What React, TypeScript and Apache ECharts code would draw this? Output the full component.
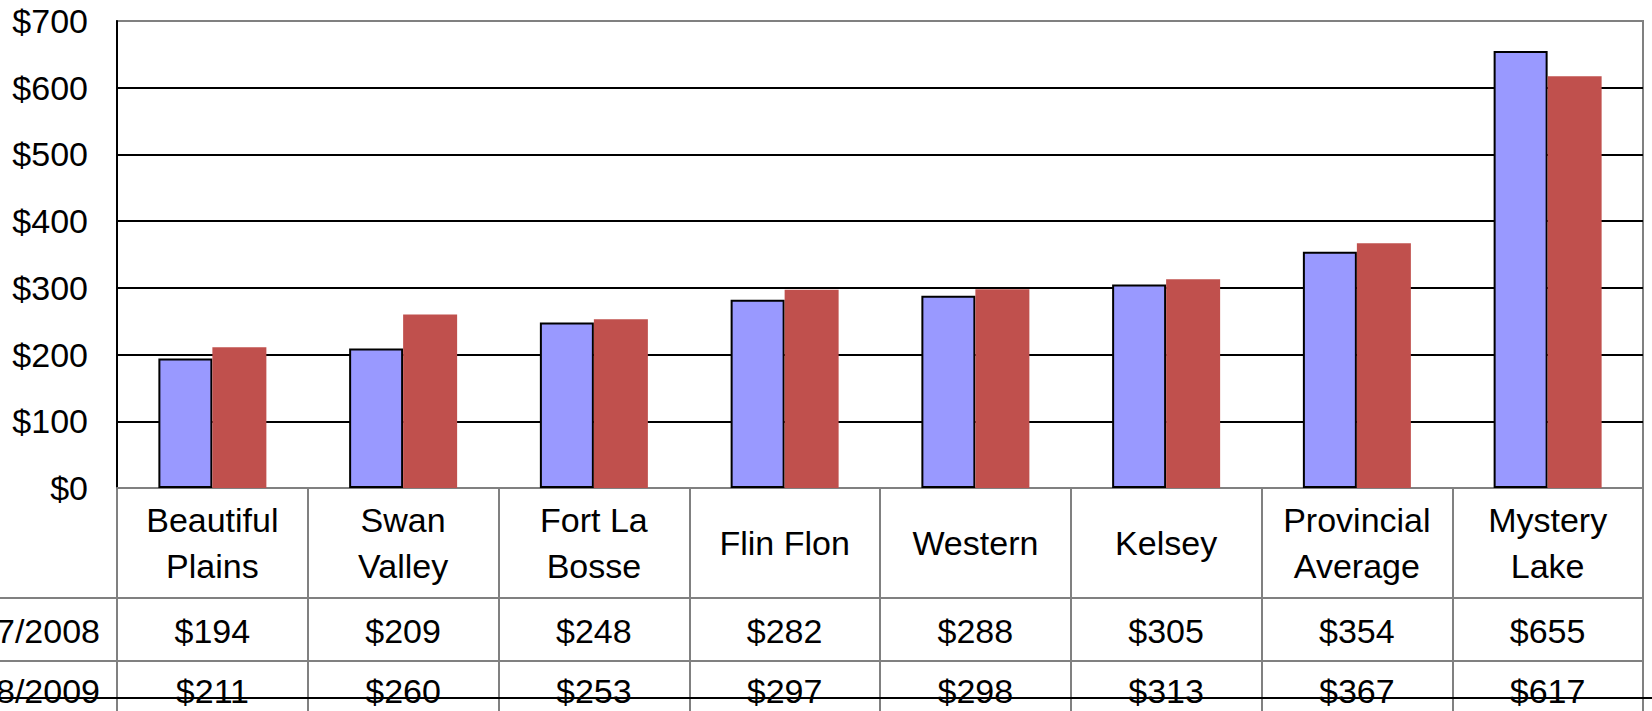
import React, { useEffect, useRef } from "react";
import * as echarts from "echarts";

const categories = [
  "Beautiful\nPlains",
  "Swan\nValley",
  "Fort La\nBosse",
  "Flin Flon",
  "Western",
  "Kelsey",
  "Provincial\nAverage",
  "Mystery\nLake",
];
const seriesNames = ["2007/2008", "2008/2009"];
const values2007 = [194, 209, 248, 282, 288, 305, 354, 655];
const values2008 = [211, 260, 253, 297, 298, 313, 367, 617];
const yMin = 0;
const yMax = 700;
const yStep = 100;

const W = 1652;
const H = 711;
const FONT = "'Liberation Sans', Arial, Helvetica, sans-serif";
const FS = 34;
const GRAY = "#808080";

export default function App() {
  const ref = useRef<HTMLDivElement>(null);
  useEffect(() => {
    const chart = echarts.init(ref.current!, null, { renderer: "svg", width: W, height: H });
    const gridLeft = 117;
    const gridRight = 9;
    const gridTop = 21;
    const gridBottom = 223;
    chart.setOption({
      animation: false,
      backgroundColor: "#fff",
      grid: {
        left: gridLeft,
        right: gridRight,
        top: gridTop,
        bottom: gridBottom,
        show: true,
        borderColor: GRAY,
        borderWidth: 2,
        containLabel: false,
      },
      xAxis: {
        type: "category",
        data: categories,
        axisLine: { show: true, lineStyle: { color: GRAY, width: 2 } },
        axisTick: { show: true, length: 223, lineStyle: { color: GRAY, width: 2 } },
        axisLabel: {
          color: "#000",
          fontFamily: FONT,
          fontSize: FS,
          lineHeight: 46,
          margin: 55,
          verticalAlign: "middle",
          interval: 0,
        },
      },
      yAxis: {
        type: "value",
        min: yMin,
        max: yMax,
        interval: yStep,
        axisLine: { show: true, lineStyle: { color: "#000", width: 2 } },
        axisTick: { show: false },
        splitLine: { show: true, showMaxLine: false, showMinLine: false, lineStyle: { color: "#000", width: 2 } },
        axisLabel: {
          color: "#000",
          fontFamily: FONT,
          fontSize: FS,
          margin: 29,
          formatter: (v: number) => "$" + v,
        },
      },
      series: [
        {
          name: seriesNames[0],
          type: "bar",
          data: values2007,
          barWidth: 54,
          barGap: "0%",
          itemStyle: { color: "#9999FF", borderColor: "#000", borderWidth: 2 },
        },
        {
          name: seriesNames[1],
          type: "bar",
          data: values2008,
          barWidth: 54,
          barGap: "0%",
          itemStyle: { color: "#C0504D", borderWidth: 0 },
        },
      ],
    });

    const plotRight = W - gridRight;
    const elements: any[] = [];
    const hline = (y: number, x1: number, x2: number, color: string, w: number) =>
      elements.push({
        type: "line",
        silent: true,
        z: 100,
        shape: { x1, y1: y, x2, y2: y },
        style: { stroke: color, lineWidth: w },
      });
    hline(598, 0, plotRight, GRAY, 2);
    hline(661, 0, plotRight, GRAY, 2);

    const rowY = [631, 691];
    [values2007, values2008].forEach((vals, r) => {
      elements.push({
        type: "text",
        silent: true,
        z: 101,
        style: {
          text: seriesNames[r],
          x: 100,
          y: rowY[r],
          align: "right",
          textAlign: "right",
          verticalAlign: "middle",
          textVerticalAlign: "middle",
          fontSize: FS,
          fontFamily: FONT,
          fill: "#000",
        },
      });
      vals.forEach((v, i) => {
        const x = chart.convertToPixel({ xAxisIndex: 0 }, i) as number;
        elements.push({
          type: "text",
          silent: true,
          z: 101,
          style: {
            text: "$" + v,
            x,
            y: rowY[r],
            align: "center",
            textAlign: "center",
            verticalAlign: "middle",
            textVerticalAlign: "middle",
            fontSize: FS,
            fontFamily: FONT,
            fill: "#000",
          },
        });
      });
    });
    hline(698, 0, W, "#000", 2);

    chart.setOption({ graphic: elements });
    return () => chart.dispose();
  }, []);
  return <div ref={ref} style={{ position: "fixed", left: 0, top: 0, width: W, height: H }} />;
}
